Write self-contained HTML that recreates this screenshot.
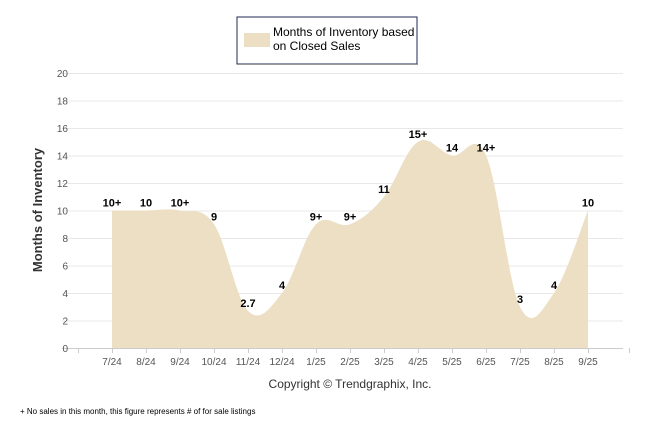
<!DOCTYPE html>
<html><head><meta charset="utf-8"><style>
body{margin:0;background:#fff;width:646px;height:434px;overflow:hidden;font-family:"Liberation Sans",sans-serif}
svg{position:absolute;left:0;top:0}
</style></head><body>
<svg width="646" height="434">
<g>
<rect x="237" y="17" width="180" height="47" fill="#fff" stroke="#1f2a55" stroke-width="1"/>
<line x1="238" y1="64.5" x2="418" y2="64.5" stroke="#999"/>
<rect x="244" y="33" width="26" height="14" fill="#ecdfc4"/>
<text x="273" y="36" font-size="12" fill="#000">Months of Inventory based</text>
<text x="273" y="50" font-size="12" fill="#000">on Closed Sales</text>
</g>
<g id="grid"></g>
<path id="area" fill="#ecdfc4"/>
<g id="labels"></g>
<text transform="translate(42,210) rotate(-90)" text-anchor="middle" font-size="13" font-weight="bold" fill="#333">Months of Inventory</text>
<text x="350" y="388" text-anchor="middle" font-size="12" fill="#333">Copyright © Trendgraphix, Inc.</text>
<text x="20" y="414" font-size="8" fill="#000">+  No sales in this month, this figure represents # of for sale listings</text>
</svg>
<script>
const categories=["7/24","8/24","9/24","10/24","11/24","12/24","1/25","2/25","3/25","4/25","5/25","6/25","7/25","8/25","9/25"];
const values=[10,10,10,9,2.7,4,9,9,11,15,14,14,3,4,10];
const pointLabels=["10+","10","10+","9","2.7","4","9+","9+","11","15+","14","14+","3","4","10"];
const yTicks=[0,2,4,6,8,10,12,14,16,18,20];
const ns="http://www.w3.org/2000/svg";
const x=i=>112+i*34, y=v=>348-v*13.75;
const grid=document.getElementById('grid'), lab=document.getElementById('labels');
function mk(tag,attrs,parent){const e=document.createElementNS(ns,tag);for(const k in attrs)e.setAttribute(k,attrs[k]);parent.appendChild(e);return e;}
yTicks.forEach(t=>{
 const l=mk('line',{x1:62,x2:623,y1:y(t)+.5,y2:y(t)+.5,stroke:t===0?'#ccc':'#e8e8e8'},grid);
 
 
 const tx=mk('text',{x:68,y:y(t)+4,'text-anchor':'end','font-size':10,fill:'#555'},grid);
 tx.textContent=t;
 
 
});
mk('line',{x1:78.5,x2:78.5,y1:348,y2:353,stroke:'#ccc'},grid);
mk('line',{x1:629.5,x2:629.5,y1:348,y2:353,stroke:'#ccc'},grid);
categories.forEach((c,i)=>{
 mk('line',{x1:x(i)+.5,x2:x(i)+.5,y1:348,y2:353,stroke:'#ccc'},grid);
 const tx=mk('text',{x:x(i),y:365,'text-anchor':'middle','font-size':10,fill:'#555'},grid);
 tx.textContent=c;
 
 
});
const P=values.map((v,i)=>[x(i),y(v)]);
let d=`M${P[0][0]},${y(0)}L${P[0][0]},${P[0][1]}`;
for(let i=0;i<P.length-1;i++){
 const p0=P[Math.max(0,i-1)],p1=P[i],p2=P[i+1],p3=P[Math.min(P.length-1,i+2)];
 const t=0.18;
 d+=`C${p1[0]+(p2[0]-p0[0])*t},${p1[1]+(p2[1]-p0[1])*t} ${p2[0]-(p3[0]-p1[0])*t},${p2[1]-(p3[1]-p1[1])*t} ${p2[0]},${p2[1]}`;
}
d+=`L${P[P.length-1][0]},${y(0)}Z`;
document.getElementById('area').setAttribute('d',d);
values.forEach((v,i)=>{
 const tx=mk('text',{x:x(i),y:y(v)-4,'text-anchor':'middle','font-size':11,'font-weight':'bold',fill:'#000'},lab);
 tx.textContent=pointLabels[i];
 
 
});
</script>
</body></html>
